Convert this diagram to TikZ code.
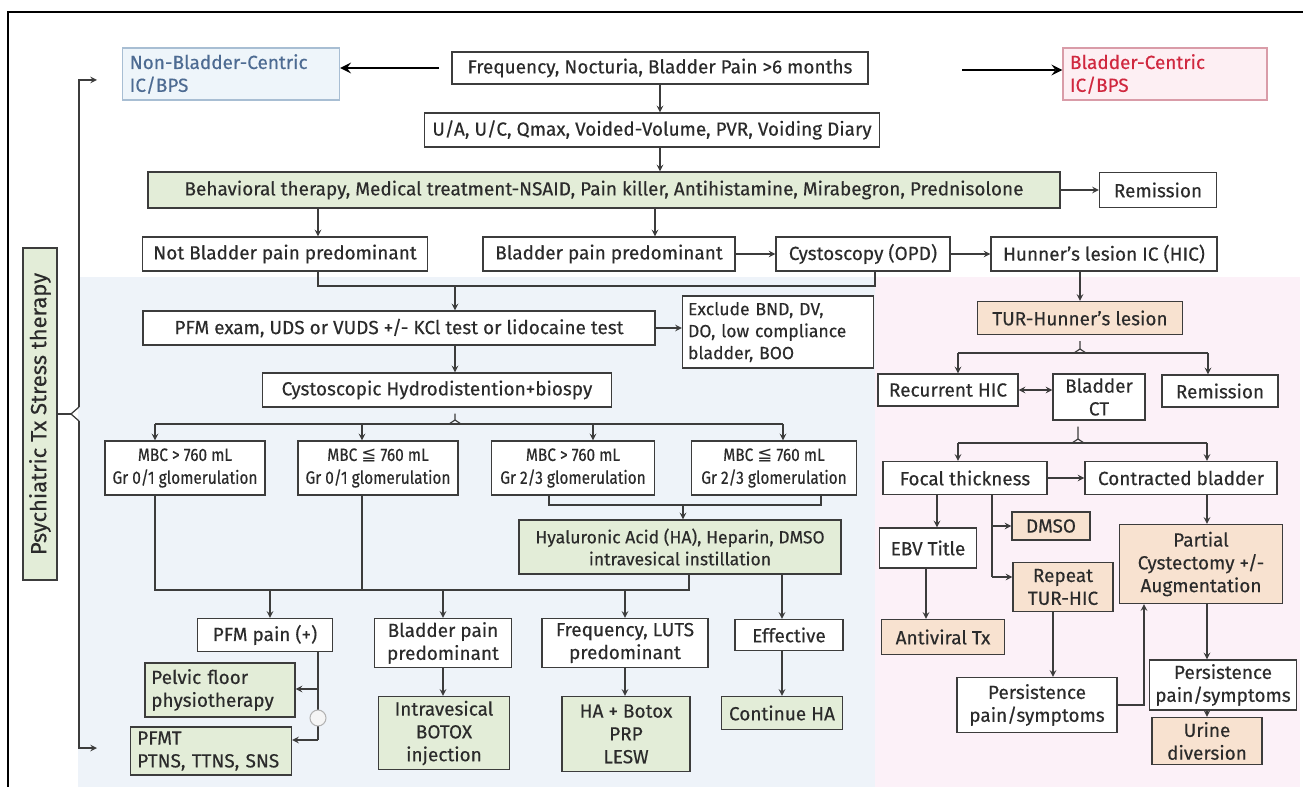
\documentclass[tikz,border=0pt]{standalone}
\usepackage{fontspec}
\setmainfont{Fira Sans}[FakeBold=0.3]
\newfontfamily\narrowfont[FakeStretch=0.86, FakeBold=0.3]{Fira Sans}
\newfontfamily\symfont{DejaVu Sans}
\usepackage{xcolor}
\usetikzlibrary{arrows, positioning, calc}

\definecolor{ink}{HTML}{2B2B2B}
\definecolor{boxline}{HTML}{3C3C3C}
\definecolor{panelblue}{HTML}{EEF3F9}
\definecolor{panelpink}{HTML}{FCF1F8}
\definecolor{greenfill}{HTML}{E3EDD8}
\definecolor{peachfill}{HTML}{F8E2D0}
\definecolor{nbcfill}{HTML}{EEF5FA}
\definecolor{nbcline}{HTML}{A8BED3}
\definecolor{nbctext}{HTML}{4D6B92}
\definecolor{bcfill}{HTML}{FDEFF3}
\definecolor{bcline}{HTML}{D99CA8}
\definecolor{bctext}{HTML}{D0283F}

\begin{document}
\begin{tikzpicture}[
    x=0.02cm, y=-0.02cm,
    font=\fontsize{10.8}{13}\selectfont,
    wh/.style 2 args={minimum width=#1*0.02cm, minimum height=#2*0.02cm},
    box/.style={rectangle, draw=boxline, line width=0.7pt, fill=white, text=ink, align=center, inner sep=2pt},
    greenbox/.style={box, fill=greenfill},
    peachbox/.style={box, fill=peachfill},
    mbcbox/.style={box, font=\narrowfont\fontsize{10.2}{13}\selectfont},
    smalltext/.style={font=\fontsize{10}{12.5}\selectfont},
    link/.style={line width=0.7pt, draw=boxline},
    arrow/.style={->, >=stealth, line width=0.7pt, draw=boxline},
    bigarrow/.style={->, >=stealth, line width=1.7pt, draw=black}
]
\useasboundingbox (0,0) rectangle (1303,787);

% frame and panels
\fill[panelblue] (78,277) rectangle (875,787);
\fill[panelpink] (875,277) rectangle (1300,787);
\draw[line width=1.5pt] (8,787) -- (8,12) -- (1303,12);

% top rows
\node[box, wh={416}{32}] (freq) at (660,68) {Frequency, Nocturia, Bladder Pain >6 months};
\node[box, draw=nbcline, fill=nbcfill, text=nbctext, align=left, text width=4.05cm, wh={217}{52}] (nonbc) at (231,74) {Non-Bladder-Centric\\IC/BPS};
\node[box, draw=bcline, fill=bcfill, text=bctext, align=left, text width=3.8cm, wh={204}{52}] (bc) at (1165,74) {Bladder-Centric\\IC/BPS};
\node[box, wh={455}{34}] (ua) at (652,130) {U/A, U/C, Qmax, Voided-Volume, PVR, Voiding Diary};
\node[greenbox, wh={912}{36}] (behav) at (604,190) {Behavioral therapy, Medical treatment-NSAID, Pain killer, Antihistamine, Mirabegron, Prednisolone};
\node[box, wh={117}{35}] (remis1) at (1158,190) {Remission};

\node[box, wh={285}{34}] (notbp) at (285,254) {Not Bladder pain predominant};
\node[box, wh={252}{34}] (bp) at (609,254) {Bladder pain predominant};
\node[box, wh={174}{34}] (cysto) at (863,254) {Cystoscopy (OPD)};
\node[box, wh={226}{34}] (hunner) at (1104,254) {Hunner's lesion IC (HIC)};

% non bladder-centric side
\node[box, wh={512}{34}] (pfm) at (399,328) {PFM exam, UDS or VUDS +/- KCl test or lidocaine test};
\node[box, smalltext, align=left, text width=3.6cm, wh={191}{72}] (excl) at (778,332) {Exclude BND, DV,\\DO, low compliance\\bladder, BOO};
\node[box, wh={349}{34}] (cysh) at (437,390) {Cystoscopic Hydrodistention+biospy};

\node[mbcbox, wh={160}{54}] (mbc1) at (185,468) {MBC > 760 mL\\Gr 0/1 glomerulation};
\node[mbcbox, wh={160}{54}] (mbc2) at (378,468) {MBC {\symfont ≦} 760 mL\\Gr 0/1 glomerulation};
\node[mbcbox, wh={163}{54}] (mbc3) at (573,468) {MBC > 760 mL\\Gr 2/3 glomerulation};
\node[mbcbox, wh={165}{54}] (mbc4) at (774,468) {MBC {\symfont ≦} 760 mL\\Gr 2/3 glomerulation};
\node[greenbox, smalltext, wh={322}{54}] (ha) at (680,547) {Hyaluronic Acid (HA), Heparin, DMSO\\intravesical instillation};

\node[box, wh={135}{33}] (pfmpain) at (265,635) {PFM pain (+)};
\node[greenbox, align=left, text width=2.75cm, wh={150}{54}] (pelvic) at (220,690) {Pelvic floor\\physiotherapy};
\node[greenbox, align=left, text width=2.95cm, wh={161}{48}] (pfmt) at (211,751) {PFMT\\PTNS, TTNS, SNS};
\node[box, wh={137}{49}] (bpp) at (443,643) {Bladder pain\\predominant};
\node[greenbox, wh={131}{73}] (botox) at (444,733) {Intravesical\\BOTOX\\injection};
\node[box, wh={166}{49}] (freql) at (625,643) {Frequency, LUTS\\predominant};
\node[greenbox, wh={128}{75}] (habot) at (626,734) {HA + Botox\\PRP\\LESW};
\node[box, wh={108}{31}] (eff) at (789,635) {Effective};
\node[greenbox, wh={121}{33}] (conha) at (782,713) {Continue HA};

% bladder-centric side
\node[peachbox, wh={205}{33}] (tur) at (1080,318) {TUR-Hunner's lesion};
\node[box, wh={140}{32}] (rec) at (948,390) {Recurrent HIC};
\node[box, wh={92}{46}] (bct) at (1099,397) {Bladder\\CT};
\node[box, wh={116}{32}] (remis2) at (1220,391) {Remission};
\node[box, wh={164}{33}] (focal) at (965,478) {Focal thickness};
\node[box, wh={192}{33}] (contr) at (1181,478) {Contracted bladder};
\node[box, wh={97}{40}] (ebv) at (928,548) {EBV Title};
\node[peachbox, wh={78}{28}] (dmso) at (1051,526) {DMSO};
\node[peachbox, wh={100}{49}] (rtur) at (1063,587) {Repeat\\TUR-HIC};
\node[peachbox, wh={123}{35}] (anti) at (943,637) {Antiviral Tx};
\node[peachbox, wh={163}{79}] (partial) at (1201,564) {Partial\\Cystectomy +/-\\Augmentation};
\node[box, wh={160}{55}] (pers1) at (1037,705) {Persistence\\pain/symptoms};
\node[box, wh={147}{50}] (pers2) at (1223,685) {Persistence\\pain/symptoms};
\node[peachbox, wh={110}{47}] (urine) at (1207,741) {Urine\\diversion};

% psychiatric branch
\node[greenbox, rotate=90, font=\fontsize{12.5}{14}\selectfont, wh={332}{34}] (psych) at (40,414) {Psychiatric Tx Stress therapy};

% column and row helpers
\coordinate (bcfrom) at (962,70);
\coordinate (xnot) at (318,0);
\coordinate (xbp) at (655,0);
\coordinate (xcys) at (875,0);
\coordinate (xmain) at (455,0);
\coordinate (ymerge) at (0,286);
\coordinate (ybr) at (0,424);
\coordinate (xm1) at (155,0);
\coordinate (xm2) at (362,0);
\coordinate (xm3) at (593,0);
\coordinate (xm4) at (783,0);
\coordinate (xm3b) at (549,0);
\coordinate (xm4b) at (821,0);
\coordinate (yhain) at (0,505);
\coordinate (xha) at (683,0);
\coordinate (xhab) at (689,0);
\coordinate (yout) at (0,590);
\coordinate (xp1) at (270,0);
\coordinate (xp2) at (443,0);
\coordinate (xp3) at (625,0);
\coordinate (xeff) at (782,0);
\coordinate (xpf) at (318,0);
\coordinate (ypf1) at (0,689);
\coordinate (ypf2) at (0,740);
\coordinate (xbr) at (79,0);
\coordinate (ptop) at (97,80);
\coordinate (pbot) at (97,748);
\coordinate (xtur) at (1080,0);
\coordinate (ytb) at (0,353);
\coordinate (xr1) at (958,0);
\coordinate (xr2) at (1208,0);
\coordinate (xbct) at (1078,0);
\coordinate (yfb) at (0,443);
\coordinate (xebv) at (937,0);
\coordinate (xd) at (992,0);
\coordinate (yrt) at (0,577);
\coordinate (xav) at (926,0);
\coordinate (xrt) at (1053,0);
\coordinate (xpc) at (1144,0);
\coordinate (xcb) at (1207,0);

% top arrows
\draw[bigarrow, shorten <=7pt] (freq.west) -- (freq.west -| nonbc.east);
\draw[bigarrow] (bcfrom) -- (bcfrom -| bc.west);
\draw[arrow] (freq.south) -- (freq.south |- ua.north);
\draw[arrow] (freq.south |- ua.south) -- (freq.south |- behav.north);
\draw[arrow] (behav.east) -- (remis1.west);
\draw[arrow] (behav.south -| xnot) -- (notbp.north -| xnot);
\draw[arrow] (behav.south -| xbp) -- (bp.north -| xbp);
\draw[arrow] (bp.east) -- (cysto.west);
\draw[arrow] (cysto.east) -- (hunner.west);

% left work-up
\draw[link] (notbp.south -| xnot) -- (xnot |- ymerge) -- (xcys |- ymerge) -- (cysto.south -| xcys);
\draw[arrow] (xmain |- ymerge) -- (pfm.north -| xmain);
\draw[arrow] (pfm.east) -- (pfm.east -| excl.west);
\draw[arrow] (pfm.south -| xmain) -- (cysh.north -| xmain);
\draw[link] ($(cysh.south -| xmain)+(0,6)$) -- ($(xmain |- ybr)+(0,-4)$) -- ($(xmain |- ybr)+(-6,0)$);
\draw[link] ($(xmain |- ybr)+(0,-4)$) -- ($(xmain |- ybr)+(6,0)$);
\draw[link] (xm1 |- ybr) -- (xm4 |- ybr);
\foreach \c/\b in {xm1/mbc1, xm2/mbc2, xm3/mbc3, xm4/mbc4}
    \draw[arrow] (\c |- ybr) -- (\b.north -| \c);

\draw[link] (mbc3.south -| xm3b) -- (xm3b |- yhain) -- (xm4b |- yhain) -- (mbc4.south -| xm4b);
\draw[arrow] (xha |- yhain) -- (ha.north -| xha);
\draw[link] (mbc1.south -| xm1) -- (xm1 |- yout) -- (xhab |- yout) -- (ha.south -| xhab);
\draw[link] (mbc2.south -| xm2) -- (xm2 |- yout);
\draw[arrow] (xp1 |- yout) -- (pfmpain.north -| xp1);
\draw[arrow] (xp2 |- yout) -- (bpp.north -| xp2);
\draw[arrow] (xp3 |- yout) -- (freql.north -| xp3);
\draw[arrow] (ha.south -| xeff) -- (eff.north -| xeff);

\draw[link] (pfmpain.south -| xpf) -- (xpf |- ypf2);
\draw[arrow] (xpf |- ypf1) -- (pelvic.east |- ypf1);
\draw[arrow] (xpf |- ypf2) -- (pfmt.east |- ypf2);
\node[circle, draw=gray!60, fill=gray!8, line width=0.6pt, minimum size=0.32cm, inner sep=0pt] (orsym) at (318,718) {};
\draw[arrow] (bpp.south -| xp2) -- (botox.north -| xp2);
\draw[arrow] (freql.south -| xp3) -- (habot.north -| xp3);
\draw[arrow] (eff.south -| xeff) -- (conha.north -| xeff);

% brace to both sides
\draw[link] (psych.south) -- ($(xbr |- psych.south)+(-8,0)$);
\draw[link] ($(xbr |- psych.south)+(0,-7)$) -- ($(xbr |- psych.south)+(-8,0)$) -- ($(xbr |- psych.south)+(0,7)$);
\draw[arrow] ($(xbr |- psych.south)+(0,-7)$) -- (xbr |- ptop) -- (ptop);
\draw[arrow] ($(xbr |- psych.south)+(0,7)$) -- (xbr |- pbot) -- (pbot);

% right work-up
\draw[arrow] (hunner.south -| xtur) -- (tur.north -| xtur);
\draw[link] ($(tur.south -| xtur)+(0,6)$) -- ($(xtur |- ytb)+(0,-4)$) -- ($(xtur |- ytb)+(-6,0)$);
\draw[link] ($(xtur |- ytb)+(0,-4)$) -- ($(xtur |- ytb)+(6,0)$);
\draw[link] (xr1 |- ytb) -- (xr2 |- ytb);
\draw[arrow] (xr1 |- ytb) -- (rec.north -| xr1);
\draw[arrow] (xr2 |- ytb) -- (remis2.north -| xr2);
\draw[arrow, <->] (rec.east) -- (rec.east -| bct.west);

\draw[link] ($(bct.south -| xbct)+(0,6)$) -- ($(xbct |- yfb)+(0,-4)$) -- ($(xbct |- yfb)+(-6,0)$);
\draw[link] ($(xbct |- yfb)+(0,-4)$) -- ($(xbct |- yfb)+(6,0)$);
\draw[link] (xr1 |- yfb) -- (xcb |- yfb);
\draw[arrow] (xr1 |- yfb) -- (focal.north -| xr1);
\draw[arrow] (xcb |- yfb) -- (contr.north -| xcb);
\draw[arrow] (focal.east) -- (contr.west);

\draw[arrow] (focal.south -| xebv) -- (ebv.north -| xebv);
\draw[link] (focal.south -| xd) -- (xd |- yrt);
\draw[arrow] (xd |- dmso.west) -- (dmso.west);
\draw[arrow] (xd |- yrt) -- (rtur.west |- yrt);
\draw[arrow] (ebv.south -| xav) -- (anti.north -| xav);
\draw[arrow] (rtur.south -| xrt) -- (pers1.north -| xrt);
\draw[arrow] (pers1.east) -- (xpc |- pers1.east) -- (partial.south -| xpc);
\draw[arrow] (contr.south -| xcb) -- (partial.north -| xcb);
\draw[arrow] (partial.south -| xcb) -- (pers2.north -| xcb);
\draw[arrow] (pers2.south -| xcb) -- (urine.north -| xcb);

\end{tikzpicture}
\end{document}
